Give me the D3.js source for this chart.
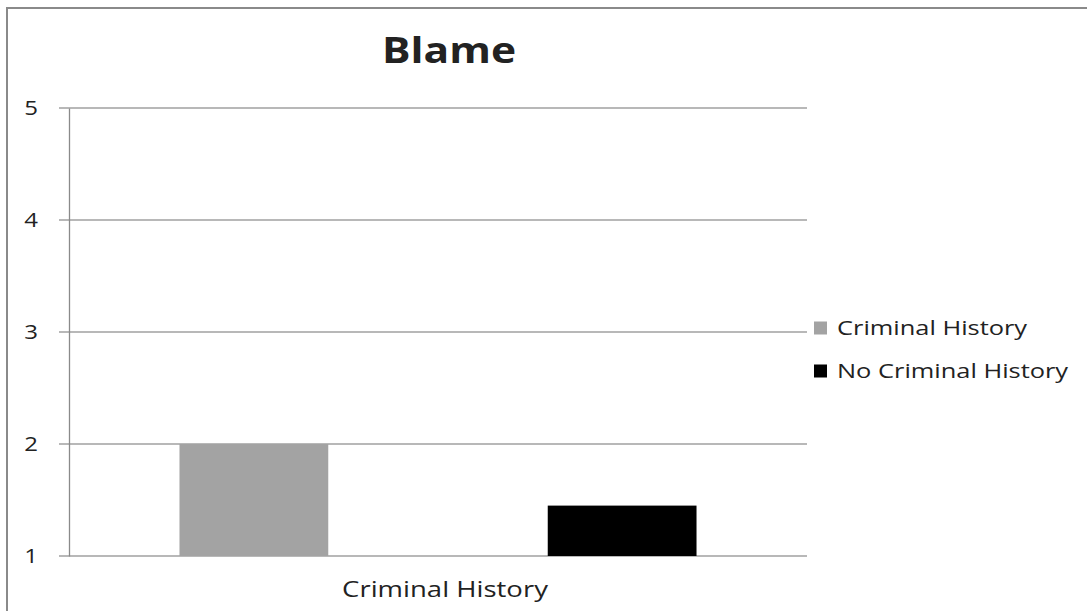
<!DOCTYPE html>
<html>
<head>
<meta charset="utf-8">
<script src="https://cdn.jsdelivr.net/npm/d3@7"></script>
<style>
  html, body { margin: 0; padding: 0; background: #fff; }
  svg { display: block; }
  text { font-family: "Open Sans", "DejaVu Sans", sans-serif; fill: #222; }
</style>
</head>
<body>
<svg id="chart" width="1087" height="611"></svg>
<script>
const title = "Blame";
const categories = ["Criminal History"];
const seriesNames = ["Criminal History", "No Criminal History"];
const seriesValues = [[2.0], [1.45]];
const seriesColors = ["#a3a3a3", "#000000"];
const yTicks = [1, 2, 3, 4, 5];

const svg = d3.select("#chart");
const W = 1087, H = 611;
const plot = { left: 69, right: 807, top: 108, bottom: 556 };
const stretch = 1.27;

// stretch a text element horizontally about its own anchor point
function widen(sel, s) {
  sel.each(function () {
    const t = d3.select(this);
    const x = +t.attr("x") || 0;
    const yy = +t.attr("y") || 0;
    t.attr("x", 0).attr("y", 0)
     .attr("transform", `translate(${x},${yy}) scale(${s},1)`);
  });
}

// outer frame
svg.append("rect")
  .attr("x", 7).attr("y", 8).attr("width", W + 10).attr("height", H + 10)
  .attr("fill", "#fff").attr("stroke", "#8a8a8a").attr("stroke-width", 2);

const y = d3.scaleLinear().domain([1, 5]).range([plot.bottom, plot.top]);
const x0 = d3.scaleBand().domain(categories).range([plot.left, plot.right]).padding(0);
const x1 = d3.scaleBand().domain(seriesNames).range([0, x0.bandwidth()])
  .paddingInner(0.596).paddingOuter(0.3);

// gridlines
svg.append("g").selectAll("line").data(yTicks).join("line")
  .attr("x1", plot.left - 10).attr("x2", plot.right)
  .attr("y1", d => y(d)).attr("y2", d => y(d))
  .attr("stroke", "#a0a0a0").attr("stroke-width", 1.3);

// y axis
const yAxis = d3.axisLeft(y).tickValues(yTicks).tickSize(0).tickPadding(31).tickFormat(d3.format("d"));
const gy = svg.append("g").attr("transform", `translate(${plot.left},0)`).call(yAxis);
gy.select(".domain").attr("stroke", "#8a8a8a").attr("stroke-width", 1.3);
gy.selectAll(".tick text").attr("font-size", 20).attr("fill", "#333")
  .style("font-family", "'Open Sans', sans-serif");
widen(gy.selectAll(".tick text"), 1.2);

// bars
const groups = svg.append("g").selectAll("g").data(categories).join("g")
  .attr("transform", d => `translate(${x0(d)},0)`);
seriesNames.forEach((s, si) => {
  groups.append("rect")
    .attr("x", x1(s))
    .attr("width", x1.bandwidth())
    .attr("y", (d, ci) => y(seriesValues[si][ci]))
    .attr("height", (d, ci) => y(1) - y(seriesValues[si][ci]))
    .attr("fill", seriesColors[si]);
});

// x axis labels
const xAxis = d3.axisBottom(x0).tickSize(0).tickPadding(26);
const gx = svg.append("g").attr("transform", `translate(0,${plot.bottom})`).call(xAxis);
gx.select(".domain").remove();
gx.selectAll(".tick text").attr("font-size", 21).attr("fill", "#222")
  .attr("x", 7)
  .style("font-family", "'Open Sans', sans-serif");
widen(gx.selectAll(".tick text"), 1.31);

// title
const tt = svg.append("text").attr("x", 449).attr("y", 63).attr("text-anchor", "middle")
  .attr("font-size", 36).attr("font-weight", "bold").attr("fill", "#111")
  .text(title);
widen(tt, 1.18);

// legend
const legend = svg.append("g").attr("transform", "translate(814,328)");
seriesNames.forEach((s, i) => {
  const g = legend.append("g").attr("transform", `translate(0,${i * 43})`);
  g.append("rect").attr("x", 0).attr("y", -6.5).attr("width", 13).attr("height", 13)
    .attr("fill", seriesColors[i]);
  const lt = g.append("text").attr("x", 23).attr("y", 0).attr("dy", "0.35em")
    .attr("font-size", 20).attr("fill", "#222").text(s);
  widen(lt, stretch);
});
</script>
</body>
</html>
